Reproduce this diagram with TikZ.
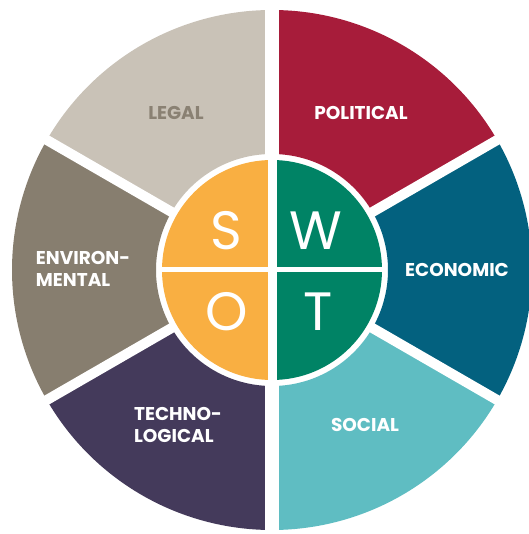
\documentclass[tikz,border=0pt]{standalone}
\usepackage{fontspec}
\setmainfont{Poppins}
\usetikzlibrary{positioning}
\definecolor{legalgray}{HTML}{C9C2B7}
\definecolor{legaltext}{HTML}{8A8173}
\definecolor{polred}{HTML}{A71C3A}
\definecolor{econblue}{HTML}{03617F}
\definecolor{socteal}{HTML}{5FBDC2}
\definecolor{techpurple}{HTML}{443A5B}
\definecolor{envtaupe}{HTML}{877E6F}
\definecolor{swotorange}{HTML}{F9AF42}
\definecolor{swotgreen}{HTML}{008365}
\newcommand{\ringsector}[3]% start angle, end angle, colour
{\fill[#3] (#1:116) arc (#1:#2:116) -- (#2:260) arc (#2:#1:260) -- cycle;
}
\tikzset{
  pestlabel/.style={font=\fontsize{18.5}{22}\selectfont\bfseries, text=white, align=left, inner sep=0pt},
  swotletter/.style={font=\fontsize{54}{54}\selectfont, text=white, inner sep=0pt}
}

\begin{document}
\begin{tikzpicture}[x=1pt,y=1pt]
	\useasboundingbox (-272,-264) rectangle (256,270);
	\ringsector{30}{90}{polred}%political
	\ringsector{-30}{30}{econblue}%economic
	\ringsector{-90}{-30}{socteal}%social
	\ringsector{-150}{-90}{techpurple}%technological
	\ringsector{150}{210}{envtaupe}%environmental
	\ringsector{90}{150}{legalgray}%legal
	\foreach \a in {30,-30,150,-150}
		\draw[white, line width=10pt] (0,0) -- (\a:275);
	\draw[white, line width=14pt] (0,-275) -- (0,275);
	\fill[swotorange] (90:110) arc (90:270:110) -- cycle;
	\fill[swotgreen] (-90:110) arc (-90:90:110) -- cycle;
	\draw[white, line width=9pt] (0,-112) -- (0,112);
	\draw[white, line width=5pt] (-112,0) -- (112,0);
	\node[pestlabel, text=legaltext] (legal) at (-96,157) {LEGAL};
	\node[pestlabel] (political) at (89,157) {POLITICAL};
	\node[pestlabel] (economic) at (185,0) {ECONOMIC};
	\node[pestlabel] (social) at (93,-155) {SOCIAL};
	\node[pestlabel] (techno) at (-94,-155) {TECHNO-\\LOGICAL};
	\node[pestlabel] (environ) at (-189,1) {ENVIRON-\\MENTAL};
	\node[swotletter] (s) at (-46,39) {S};
	\node[swotletter] (w) at (44,39) {W};
	\node[swotletter] (o) at (-45,-42) {O};
	\node[swotletter] (t) at (46,-42) {T};
\end{tikzpicture}
\end{document}
